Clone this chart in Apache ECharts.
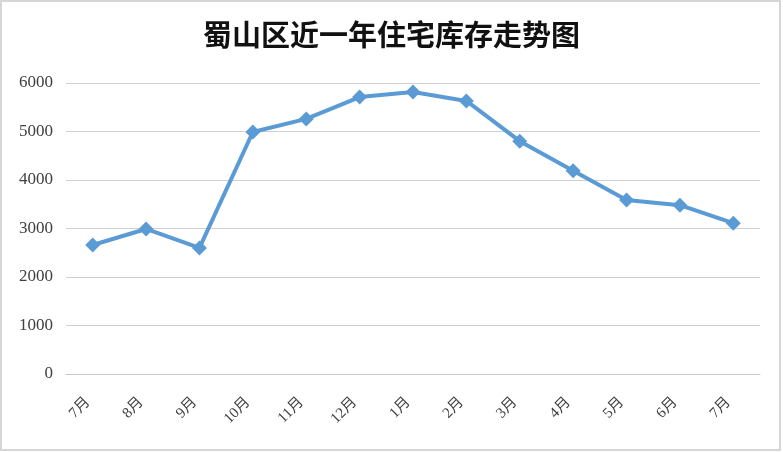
<!DOCTYPE html>
<html><head><meta charset="utf-8">
<script src="https://cdn.jsdelivr.net/npm/echarts@6/dist/echarts.min.js"></script>
<style>html,body{margin:0;padding:0;background:#fff}#c{width:783px;height:452px}</style>
</head><body><div id="c"></div>
<script>
const categories = ['7月','8月','9月','10月','11月','12月','1月','2月','3月','4月','5月','6月','7月'];
const inventory = [2660, 2990, 2600, 4990, 5260, 5710, 5815, 5630, 4800, 4190, 3590, 3480, 3110];
const yTicks = {min: 0, max: 6000, interval: 1000};
const chart = echarts.init(document.getElementById('c'));
chart.setOption({
  backgroundColor: '#fff',
  animation: false,
  title: {
    text: '蜀山区近一年住宅库存走势图', left: 'center', top: 15,
    textStyle: {fontFamily: 'Noto Sans CJK SC', fontWeight: 'bold', fontSize: 29, color: '#111'}
  },
  graphic: [{
    type: 'rect', silent: true, z: -1,
    shape: {x: 1, y: 1, width: 779, height: 449},
    style: {fill: 'none', stroke: '#d6d6d6', lineWidth: 2}
  }],
  grid: {left: 66, right: 23, top: 83, bottom: 78},
  xAxis: {
    type: 'category', data: categories, boundaryGap: true,
    axisLine: {show: true, lineStyle: {color: '#c8c8c8', width: 1}},
    axisTick: {show: false},
    axisLabel: {rotate: 45, margin: 21, padding: [0, 7, 0, 0], color: '#404040', fontSize: 15, fontFamily: 'Liberation Serif, Noto Sans CJK SC'}
  },
  yAxis: {
    type: 'value', min: yTicks.min, max: yTicks.max, interval: yTicks.interval,
    axisLine: {show: false}, axisTick: {show: false},
    splitLine: {lineStyle: {color: '#d0d0d0', width: 1}},
    axisLabel: {color: '#404040', fontSize: 17, margin: 13, fontFamily: 'Liberation Serif', formatter: v => String(v)}
  },
  series: [{
    type: 'line', data: inventory,
    lineStyle: {color: '#5B9BD5', width: 4},
    itemStyle: {color: '#5B9BD5'},
    symbol: 'diamond', symbolSize: 15, showSymbol: true
  }]
});
</script></body></html>
